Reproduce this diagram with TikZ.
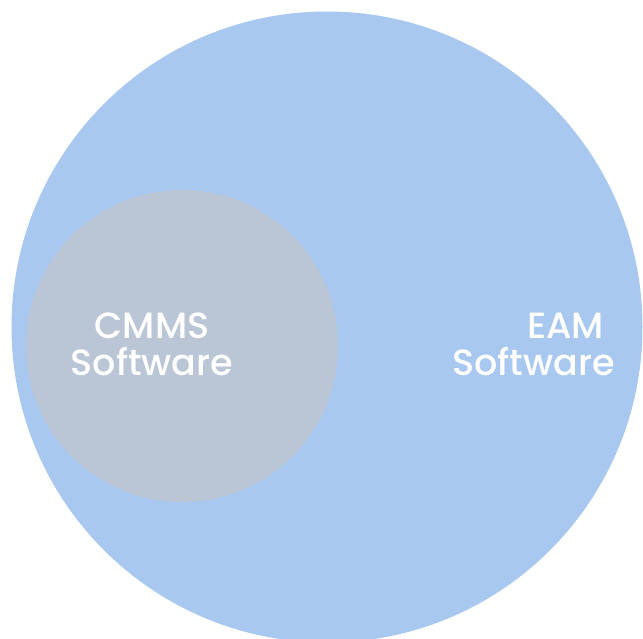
\documentclass[tikz,border=0pt]{standalone}
\usepackage{fontspec}
\newfontfamily\venfont{Poppins Medium}
\definecolor{eamblue}{HTML}{A8C8F0}
\definecolor{cmmsgray}{HTML}{BAC6D6}
\begin{document}
\begin{tikzpicture}[x=1pt, y=-1pt,
  set/.style={circle, inner sep=0pt},
  set label/.style={text=white, inner sep=0pt, font=\venfont\fontsize{36.5}{37}\selectfont}]
\useasboundingbox (0,0) rectangle (643,638);
% the two sets
\node[set, fill=eamblue, minimum size=631pt] (eam) at (327,327) {};
\node[set, fill=cmmsgray, minimum size=312pt] (cmms) at (182,346) {};
% labels
\node[set label, align=center] (cmmslabel) at (152,344) {CMMS\\Software};
\node[set label, align=right, anchor=east] (eamlabel) at (615,344) {EAM\kern11pt\\Software};
\end{tikzpicture}
\end{document}
